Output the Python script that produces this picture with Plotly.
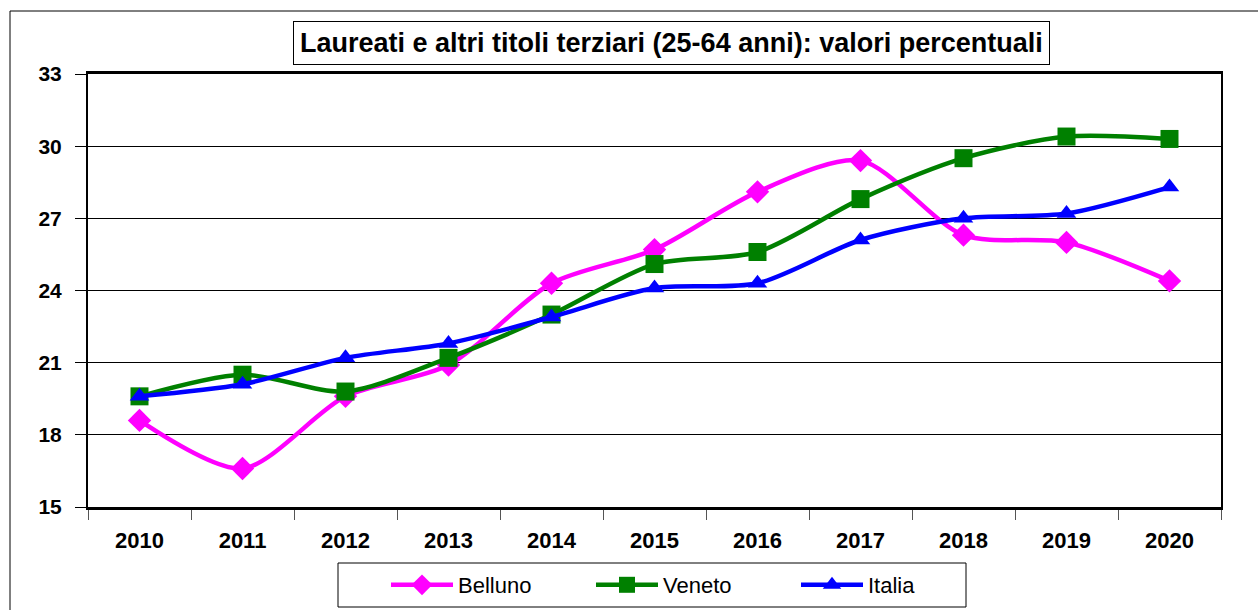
import plotly.graph_objects as go

years = ["2010", "2011", "2012", "2013", "2014", "2015", "2016", "2017", "2018", "2019", "2020"]
belluno = [18.6, 16.6, 19.6, 20.9, 24.3, 25.7, 28.1, 29.4, 26.3, 26.0, 24.4]
veneto = [19.6, 20.5, 19.8, 21.2, 23.0, 25.1, 25.6, 27.8, 29.5, 30.4, 30.3]
italia = [19.6, 20.1, 21.2, 21.8, 22.9, 24.1, 24.3, 26.1, 27.0, 27.2, 28.3]
y_ticks = [15, 18, 21, 24, 27, 30, 33]
title_text = "Laureati e altri titoli terziari (25-64 anni): valori percentuali"

W, H = 1258, 610
L, R, T, B = 88, 1221, 74, 507
pw, ph = R - L, B - T

def px(x):
    return (x - L) / pw

def py(y):
    return (B - y) / ph

fig = go.Figure()
series = [
    ("Belluno", belluno, "#FF00FF", "diamond", 18),
    ("Veneto", veneto, "#008000", "square", 18),
    ("Italia", italia, "#0000FF", "triangle-up", 17),
]
for name, vals, col, sym, sz in series:
    fig.add_trace(go.Scatter(
        x=years, y=vals, name=name, mode="lines+markers",
        line=dict(color=col, width=4.5, shape="spline", smoothing=0.8),
        marker=dict(symbol=sym, size=sz, color=col),
    ))

fig.update_layout(
    width=W, height=H,
    margin=dict(l=L, r=W - R, t=T, b=H - B, autoexpand=False),
    paper_bgcolor="white", plot_bgcolor="white",
    font=dict(family="Liberation Sans, Arial, sans-serif", color="black"),
    showlegend=True,
    legend=dict(
        orientation="h", x=px(386), xanchor="left", y=py(585), yanchor="middle",
        borderwidth=0, bgcolor="rgba(0,0,0,0)",
        font=dict(size=22), itemwidth=62, entrywidth=128,
    ),
    xaxis=dict(
        type="category", categoryorder="array", categoryarray=years,
        range=[-0.5, len(years) - 0.5], automargin=False,
        showgrid=False, ticks="outside", tickson="boundaries", ticklen=10,
        tickcolor="#555", showline=True, linecolor="black", linewidth=3, mirror=True,
        tickfont=dict(size=22, weight="bold"), ticklabelstandoff=12, fixedrange=True,
    ),
    yaxis=dict(
        range=[15, 33], tickvals=y_ticks, showgrid=True, gridcolor="black", gridwidth=1,
        ticks="outside", ticklen=11, tickcolor="black", automargin=False,
        showline=True, linecolor="black", linewidth=2, mirror=True,
        tickfont=dict(size=21, weight="bold"), ticklabelstandoff=9, zeroline=False,
    ),
    shapes=[
        dict(type="rect", xref="paper", yref="paper",
             x0=px(10), x1=px(1262), y0=py(615), y1=py(11),
             line=dict(color="black", width=1), layer="below"),
        dict(type="rect", xref="paper", yref="paper",
             x0=px(338), x1=px(966), y0=py(607), y1=py(563),
             line=dict(color="black", width=1), fillcolor="white", layer="below"),
    ],
    annotations=[
        dict(text=title_text, xref="paper", yref="paper", x=px(671), y=py(43),
             xanchor="center", yanchor="middle", showarrow=False,
             font=dict(size=27, weight="bold"), bordercolor="black", borderwidth=1,
             borderpad=6, bgcolor="white"),
    ],
)

fig.write_html(
    "out.html",
    config={"displayModeBar": False},
    post_script="document.body.style.margin='0';document.body.style.overflow='hidden';",
)
